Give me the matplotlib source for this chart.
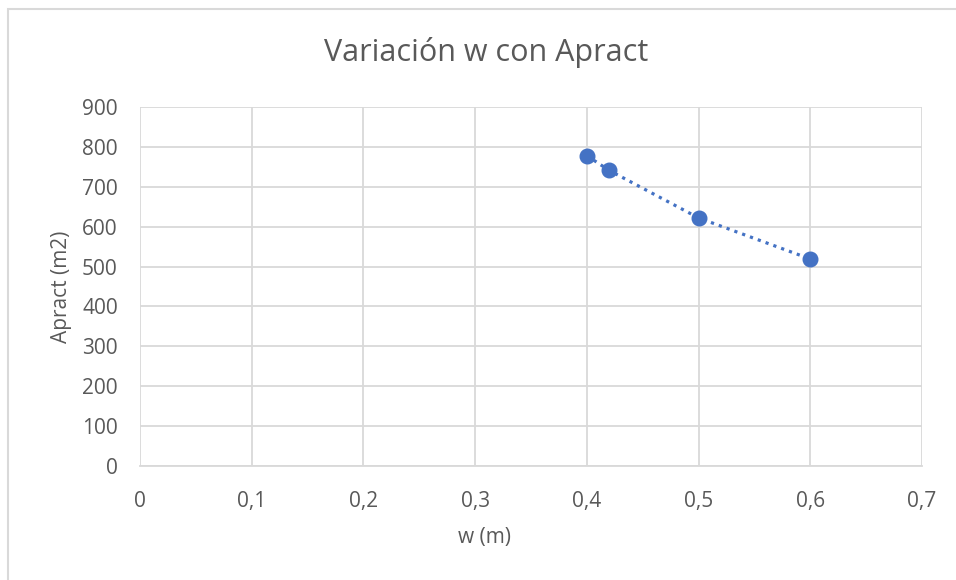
import matplotlib
matplotlib.use("Agg")
import matplotlib.pyplot as plt
from matplotlib.patches import Rectangle
from matplotlib.ticker import FuncFormatter

# data
w_vals = [0.40, 0.42, 0.50, 0.60]
apract_vals = [778, 741, 622, 519]
x_ticks = [0, 0.1, 0.2, 0.3, 0.4, 0.5, 0.6, 0.7]
y_ticks = [0, 100, 200, 300, 400, 500, 600, 700, 800, 900]

TEXT = "#595959"
GRID = "#D9D9D9"
BLUE = "#4472C4"

plt.rcParams["font.family"] = ["Open Sans", "DejaVu Sans"]

fig = plt.figure(figsize=(9.56, 5.8), dpi=100)
ax = fig.add_axes([140 / 956, 1 - 466 / 580, (922 - 140) / 956, (466 - 107) / 580])

# outer chart-area border (only top/left visible in the reference)
fig.patches.append(Rectangle((7.5 / 956, -0.05), 1.1, 1 - 8.5 / 580 + 0.05,
                             transform=fig.transFigure, fill=False,
                             edgecolor=GRID, linewidth=1.5))

ax.plot(w_vals, apract_vals, linestyle=(0, (1, 1.6)), linewidth=2.3, color=BLUE,
        marker="o", markersize=10.5, markerfacecolor=BLUE, markeredgecolor=BLUE,
        zorder=3, clip_on=False)

ax.set_xlim(0, 0.7)
ax.set_ylim(0, 900)
ax.set_xticks(x_ticks)
ax.set_yticks(y_ticks)
ax.xaxis.set_major_formatter(FuncFormatter(lambda v, p: f"{v:g}".replace(".", ",")))
ax.grid(True, color=GRID, linewidth=1.3)
ax.set_axisbelow(True)
for s in ax.spines.values():
    s.set_visible(False)
ax.spines["bottom"].set_visible(True)
ax.spines["bottom"].set_color(GRID)
ax.spines["bottom"].set_linewidth(1.3)
ax.tick_params(length=0, labelsize=15, colors=TEXT)
ax.tick_params(axis="x", pad=18)
ax.tick_params(axis="y", pad=16)

# titles are centred on the chart area, not on the plot area
fig.text(486 / 956, 1 - 52 / 580, "Variación w con Apract", fontsize=22,
         color=TEXT, ha="center", va="center")
fig.text(484 / 956, 1 - 538 / 580, "w (m)", fontsize=15, color=TEXT,
         ha="center", va="center")
fig.text(62 / 956, 1 - 287 / 580, "Apract (m2)", fontsize=15, color=TEXT,
         ha="center", va="center", rotation=90)

fig.savefig("out.png", dpi=100)
